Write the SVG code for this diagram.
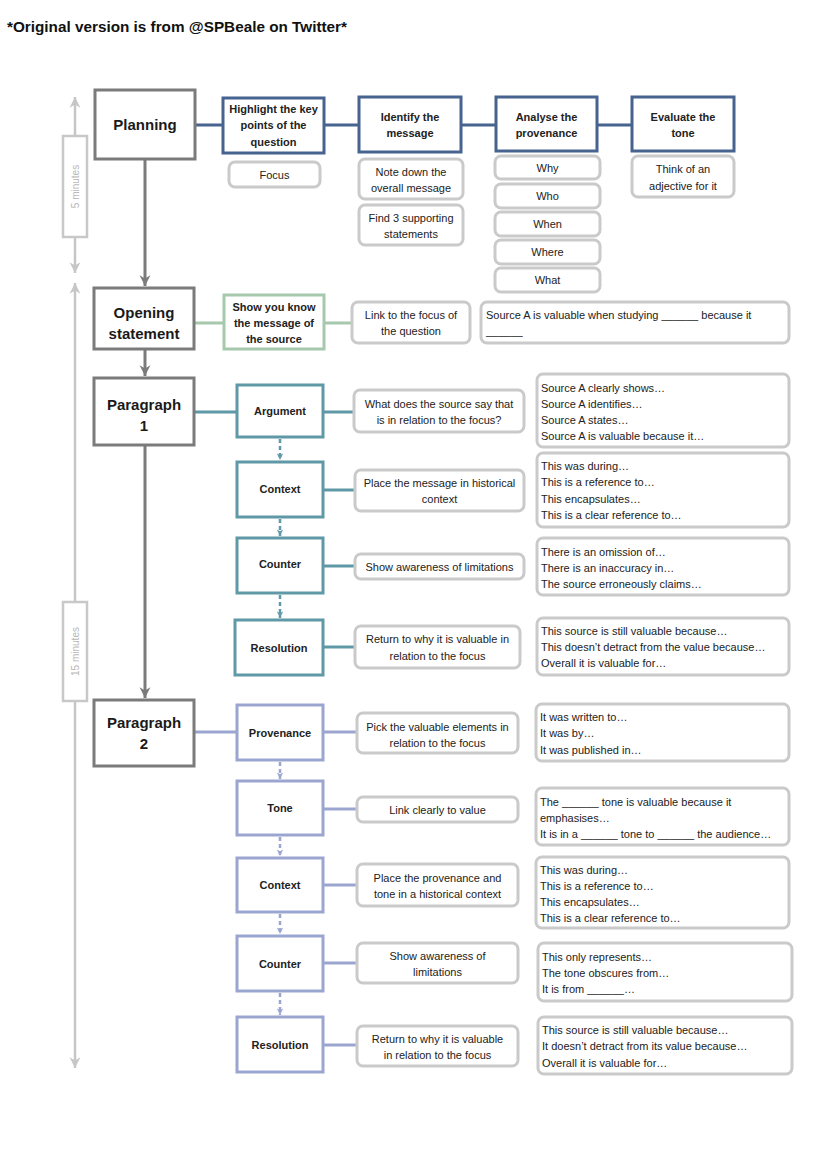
<svg xmlns="http://www.w3.org/2000/svg" width="828" height="1171" viewBox="0 0 828 1171">
<style>
  .bg{fill:#ffffff}
  .main{fill:#fff;stroke:#7b7b7b;stroke-width:3}
  .plan{fill:#fff;stroke:#47638f;stroke-width:3}
  .green{fill:#fff;stroke:#a6c9ae;stroke-width:3}
  .teal{fill:#fff;stroke:#5f98a6;stroke-width:3}
  .lav{fill:#fff;stroke:#9ba6d0;stroke-width:3}
  .note{fill:#fff;stroke:#cacaca;stroke-width:3}
  .tbox{fill:#fff;stroke:#c8c8c8;stroke-width:2}
  .t{font-family:"Liberation Sans",Arial,sans-serif;font-size:11px;fill:#222;text-anchor:middle}
  .b{font-weight:bold}
  .l{text-anchor:start}
  .big{font-family:"Liberation Sans",Arial,sans-serif;font-size:15px;font-weight:bold;fill:#1a1a1a;text-anchor:middle}
  .tt{font-family:"Liberation Sans",Arial,sans-serif;font-size:10px;fill:#b8b8b8;text-anchor:middle}
  .title{font-family:"Liberation Sans",Arial,sans-serif;font-size:15px;font-weight:bold;fill:#111}
  .cg{stroke:#7b7b7b;stroke-width:3;fill:none}
  .cp{stroke:#47638f;stroke-width:3;fill:none}
  .cgr{stroke:#a6c9ae;stroke-width:3;fill:none}
  .ct{stroke:#5f98a6;stroke-width:3;fill:none}
  .ctd{stroke:#5f98a6;stroke-width:2.5;fill:none;stroke-dasharray:4 3}
  .cl{stroke:#9ba6d0;stroke-width:3;fill:none}
  .cld{stroke:#9ba6d0;stroke-width:2.5;fill:none;stroke-dasharray:4 3}
  .ctime{stroke:#c6c6c6;stroke-width:2.5;fill:none}
</style>
<defs>
  <marker id="ag" viewBox="0 0 12 12" refX="11" refY="6" markerWidth="13" markerHeight="13" markerUnits="userSpaceOnUse" orient="auto-start-reverse">
    <path d="M1,1 L11,6 L1,11 L4,6 z" fill="#7b7b7b"/>
  </marker>
  <marker id="atime" viewBox="0 0 12 12" refX="11" refY="6" markerWidth="13" markerHeight="13" markerUnits="userSpaceOnUse" orient="auto-start-reverse">
    <path d="M1,1 L11,6 L1,11 L4,6 z" fill="#c6c6c6"/>
  </marker>
  <marker id="at" viewBox="0 0 10 10" refX="9" refY="5" markerWidth="8" markerHeight="8" markerUnits="userSpaceOnUse" orient="auto">
    <path d="M1,1 L9,5 L1,9 L3,5 z" fill="#5f98a6"/>
  </marker>
  <marker id="al" viewBox="0 0 10 10" refX="9" refY="5" markerWidth="8" markerHeight="8" markerUnits="userSpaceOnUse" orient="auto">
    <path d="M1,1 L9,5 L1,9 L3,5 z" fill="#9ba6d0"/>
  </marker>
</defs>
<rect class="bg" x="0" y="0" width="828" height="1171"/>

<text class="title" x="7" y="32" textLength="340" lengthAdjust="spacingAndGlyphs">*Original version is from @SPBeale on Twitter*</text>

<g id="timeline">
  <line class="ctime" x1="75" y1="137" x2="75" y2="97" marker-end="url(#atime)"/>
  <line class="ctime" x1="75" y1="236" x2="75" y2="273" marker-end="url(#atime)"/>
  <rect x="63" y="136" width="24" height="101" fill="#fff" stroke="#c8c8c8" stroke-width="2.5"/>
  <text class="tt" transform="translate(79,186.5) rotate(-90)">5 minutes</text>
  <line class="ctime" x1="75" y1="603" x2="75" y2="283" marker-end="url(#atime)"/>
  <line class="ctime" x1="75" y1="700" x2="75" y2="1068" marker-end="url(#atime)"/>
  <rect x="63" y="602" width="24" height="99" fill="#fff" stroke="#c8c8c8" stroke-width="2.5"/>
  <text class="tt" transform="translate(79,651.5) rotate(-90)">15 minutes</text>
</g>

<g id="connectors">
  <line class="cp" x1="195" y1="125" x2="223" y2="125"/>
  <line class="cp" x1="324" y1="125" x2="359" y2="125"/>
  <line class="cp" x1="461" y1="125" x2="496" y2="125"/>
  <line class="cp" x1="597" y1="125" x2="632" y2="125"/>
  <line class="cg" x1="145" y1="160" x2="145" y2="286" marker-end="url(#ag)"/>
  <line class="cg" x1="145" y1="350" x2="145" y2="376" marker-end="url(#ag)"/>
  <line class="cg" x1="145" y1="446" x2="145" y2="698" marker-end="url(#ag)"/>
  <line class="cgr" x1="194" y1="323" x2="224" y2="323"/>
  <line class="cgr" x1="324" y1="323" x2="352" y2="323"/>
  <line class="ct" x1="194" y1="412" x2="237" y2="412"/>
  <line class="ct" x1="323" y1="412" x2="354" y2="412"/>
  <line class="ct" x1="323" y1="490" x2="355" y2="490"/>
  <line class="ct" x1="323" y1="566" x2="355" y2="566"/>
  <line class="ct" x1="323" y1="647" x2="355" y2="647"/>
  <line class="ctd" x1="280" y1="439" x2="280" y2="460" marker-end="url(#at)"/>
  <line class="ctd" x1="280" y1="519" x2="280" y2="536" marker-end="url(#at)"/>
  <line class="ctd" x1="280" y1="595" x2="280" y2="618" marker-end="url(#at)"/>
  <line class="cl" x1="194" y1="732" x2="237" y2="732"/>
  <line class="cl" x1="323" y1="732" x2="357" y2="732"/>
  <line class="cl" x1="323" y1="809" x2="357" y2="809"/>
  <line class="cl" x1="323" y1="885" x2="357" y2="885"/>
  <line class="cl" x1="323" y1="963" x2="357" y2="963"/>
  <line class="cl" x1="323" y1="1045" x2="357" y2="1045"/>
  <line class="cld" x1="280" y1="762" x2="280" y2="779" marker-end="url(#al)"/>
  <line class="cld" x1="280" y1="837" x2="280" y2="856" marker-end="url(#al)"/>
  <line class="cld" x1="280" y1="914" x2="280" y2="934" marker-end="url(#al)"/>
  <line class="cld" x1="280" y1="993" x2="280" y2="1015" marker-end="url(#al)"/>
</g>

<!-- Planning row -->
<g id="planning"><rect class="main" x="95" y="90" width="100" height="69"/><text class="big" x="145" y="130">Planning</text></g>
<g id="highlight"><rect class="plan" x="223" y="98" width="101" height="55"/>
  <text class="t b" x="273.5" y="113">Highlight the key</text><text class="t b" x="273.5" y="129">points of the</text><text class="t b" x="273.5" y="146">question</text></g>
<g id="focus"><rect class="note" x="229" y="162" width="91" height="25" rx="6"/><text class="t" x="274.5" y="178.5">Focus</text></g>
<g id="identify"><rect class="plan" x="359" y="97" width="102" height="55"/>
  <text class="t b" x="410" y="121">Identify the</text><text class="t b" x="410" y="137">message</text></g>
<g id="note-down"><rect class="note" x="359" y="159" width="104" height="40" rx="6"/>
  <text class="t" x="411" y="176">Note down the</text><text class="t" x="411" y="192">overall message</text></g>
<g id="find-3"><rect class="note" x="359" y="205" width="104" height="40" rx="6"/>
  <text class="t" x="411" y="222">Find 3 supporting</text><text class="t" x="411" y="238">statements</text></g>
<g id="analyse"><rect class="plan" x="496" y="97" width="101" height="54"/>
  <text class="t b" x="546.5" y="121">Analyse the</text><text class="t b" x="546.5" y="137">provenance</text></g>
<g id="why"><rect class="note" x="495" y="156" width="105" height="23" rx="6"/><text class="t" x="547.5" y="172">Why</text></g>
<g id="who"><rect class="note" x="495" y="184" width="105" height="24" rx="6"/><text class="t" x="547.5" y="200">Who</text></g>
<g id="when"><rect class="note" x="495" y="212" width="105" height="24" rx="6"/><text class="t" x="547.5" y="228">When</text></g>
<g id="where"><rect class="note" x="495" y="240" width="105" height="24" rx="6"/><text class="t" x="547.5" y="256">Where</text></g>
<g id="what"><rect class="note" x="495" y="268" width="105" height="24" rx="6"/><text class="t" x="547.5" y="284">What</text></g>
<g id="evaluate"><rect class="plan" x="632" y="97" width="102" height="54"/>
  <text class="t b" x="683" y="121">Evaluate the</text><text class="t b" x="683" y="137">tone</text></g>
<g id="think"><rect class="note" x="632" y="156" width="102" height="41" rx="6"/>
  <text class="t" x="683" y="173">Think of an</text><text class="t" x="683" y="190">adjective for it</text></g>

<!-- Opening statement -->
<g id="opening"><rect class="main" x="94" y="288" width="100" height="61"/>
  <text class="big" x="144" y="318">Opening</text><text class="big" x="144" y="339">statement</text></g>
<g id="show-message"><rect class="green" x="224" y="295" width="100" height="54"/>
  <text class="t b" x="274" y="311">Show you know</text><text class="t b" x="274" y="327">the message of</text><text class="t b" x="274" y="343">the source</text></g>
<g id="link-focus"><rect class="note" x="352" y="302" width="118" height="41" rx="6"/>
  <text class="t" x="411" y="319">Link to the focus of</text><text class="t" x="411" y="335">the question</text></g>
<g id="source-a"><rect class="note" x="481" y="302" width="308" height="41" rx="6"/>
  <text class="t l" x="486" y="319">Source A is valuable when studying ______ because it</text><text class="t l" x="486" y="335">______</text></g>

<!-- Paragraph 1 -->
<g id="paragraph-1"><rect class="main" x="94" y="378" width="100" height="67"/>
  <text class="big" x="144" y="410">Paragraph</text><text class="big" x="144" y="431">1</text></g>
<g id="argument"><rect class="teal" x="237" y="385" width="86" height="52"/><text class="t b" x="280" y="415">Argument</text></g>
<g id="what-does"><rect class="note" x="354" y="390" width="170" height="42" rx="6"/>
  <text class="t" x="439" y="408">What does the source say that</text><text class="t" x="439" y="424">is in relation to the focus?</text></g>
<g id="list-argument"><rect class="note" x="537" y="374" width="252" height="73" rx="6"/>
  <text class="t l" x="541" y="392">Source A clearly shows…</text><text class="t l" x="541" y="408">Source A identifies…</text>
  <text class="t l" x="541" y="424">Source A states…</text><text class="t l" x="541" y="440">Source A is valuable because it…</text></g>
<g id="context-1"><rect class="teal" x="237" y="462" width="86" height="55"/><text class="t b" x="280" y="493">Context</text></g>
<g id="place-message"><rect class="note" x="355" y="470" width="169" height="41" rx="6"/>
  <text class="t" x="439.5" y="487">Place the message in historical</text><text class="t" x="439.5" y="503">context</text></g>
<g id="list-context-1"><rect class="note" x="537" y="453" width="252" height="74" rx="6"/>
  <text class="t l" x="541" y="470">This was during…</text><text class="t l" x="541" y="486">This is a reference to…</text>
  <text class="t l" x="541" y="503">This encapsulates…</text><text class="t l" x="541" y="519">This is a clear reference to…</text></g>
<g id="counter-1"><rect class="teal" x="237" y="538" width="86" height="55"/><text class="t b" x="280" y="568">Counter</text></g>
<g id="show-awareness-1"><rect class="note" x="355" y="554" width="169" height="25" rx="6"/>
  <text class="t" x="439.5" y="571">Show awareness of limitations</text></g>
<g id="list-counter-1"><rect class="note" x="537" y="538" width="252" height="57" rx="6"/>
  <text class="t l" x="541" y="556">There is an omission of…</text><text class="t l" x="541" y="572">There is an inaccuracy in…</text>
  <text class="t l" x="541" y="588">The source erroneously claims…</text></g>
<g id="resolution-1"><rect class="teal" x="235" y="620" width="88" height="55"/><text class="t b" x="279" y="652">Resolution</text></g>
<g id="return-1"><rect class="note" x="355" y="626" width="165" height="42" rx="6"/>
  <text class="t" x="437.5" y="643">Return to why it is valuable in</text><text class="t" x="437.5" y="660">relation to the focus</text></g>
<g id="list-resolution-1"><rect class="note" x="537" y="618" width="252" height="57" rx="6"/>
  <text class="t l" x="541" y="635">This source is still valuable because…</text><text class="t l" x="541" y="651">This doesn’t detract from the value because…</text>
  <text class="t l" x="541" y="667">Overall it is valuable for…</text></g>

<!-- Paragraph 2 -->
<g id="paragraph-2"><rect class="main" x="94" y="700" width="100" height="66"/>
  <text class="big" x="144" y="728">Paragraph</text><text class="big" x="144" y="749">2</text></g>
<g id="provenance"><rect class="lav" x="237" y="705" width="86" height="55"/><text class="t b" x="280" y="737">Provenance</text></g>
<g id="pick"><rect class="note" x="357" y="713" width="161" height="40" rx="6"/>
  <text class="t" x="437.5" y="731">Pick the valuable elements in</text><text class="t" x="437.5" y="747">relation to the focus</text></g>
<g id="list-provenance"><rect class="note" x="536" y="704" width="253" height="57" rx="6"/>
  <text class="t l" x="540" y="721">It was written to…</text><text class="t l" x="540" y="737">It was by…</text>
  <text class="t l" x="540" y="754">It was published in…</text></g>
<g id="tone"><rect class="lav" x="237" y="781" width="86" height="54"/><text class="t b" x="280" y="812">Tone</text></g>
<g id="link-value"><rect class="note" x="357" y="797" width="161" height="25" rx="6"/>
  <text class="t" x="437.5" y="814">Link clearly to value</text></g>
<g id="list-tone"><rect class="note" x="536" y="788" width="253" height="57" rx="6"/>
  <text class="t l" x="540" y="806">The ______ tone is valuable because it</text><text class="t l" x="540" y="822">emphasises…</text>
  <text class="t l" x="540" y="838">It is in a ______ tone to ______ the audience…</text></g>
<g id="context-2"><rect class="lav" x="237" y="858" width="86" height="54"/><text class="t b" x="280" y="889">Context</text></g>
<g id="place-provenance"><rect class="note" x="357" y="864" width="161" height="42" rx="6"/>
  <text class="t" x="437.5" y="882">Place the provenance and</text><text class="t" x="437.5" y="898">tone in a historical context</text></g>
<g id="list-context-2"><rect class="note" x="536" y="857" width="253" height="71" rx="6"/>
  <text class="t l" x="540" y="874">This was during…</text><text class="t l" x="540" y="890">This is a reference to…</text>
  <text class="t l" x="540" y="906">This encapsulates…</text><text class="t l" x="540" y="922">This is a clear reference to…</text></g>
<g id="counter-2"><rect class="lav" x="237" y="936" width="86" height="55"/><text class="t b" x="280" y="968">Counter</text></g>
<g id="show-awareness-2"><rect class="note" x="357" y="943" width="161" height="40" rx="6"/>
  <text class="t" x="437.5" y="960">Show awareness of</text><text class="t" x="437.5" y="976">limitations</text></g>
<g id="list-counter-2"><rect class="note" x="538" y="943" width="254" height="58" rx="6"/>
  <text class="t l" x="542" y="961">This only represents…</text><text class="t l" x="542" y="977">The tone obscures from…</text>
  <text class="t l" x="542" y="993">It is from ______…</text></g>
<g id="resolution-2"><rect class="lav" x="237" y="1017" width="86" height="55"/><text class="t b" x="280" y="1049">Resolution</text></g>
<g id="return-2"><rect class="note" x="357" y="1026" width="161" height="40" rx="6"/>
  <text class="t" x="437.5" y="1043">Return to why it is valuable</text><text class="t" x="437.5" y="1059">in relation to the focus</text></g>
<g id="list-resolution-2"><rect class="note" x="538" y="1017" width="254" height="57" rx="6"/>
  <text class="t l" x="542" y="1034">This source is still valuable because…</text><text class="t l" x="542" y="1050">It doesn’t detract from its value because…</text>
  <text class="t l" x="542" y="1067">Overall it is valuable for…</text></g>
</svg>
